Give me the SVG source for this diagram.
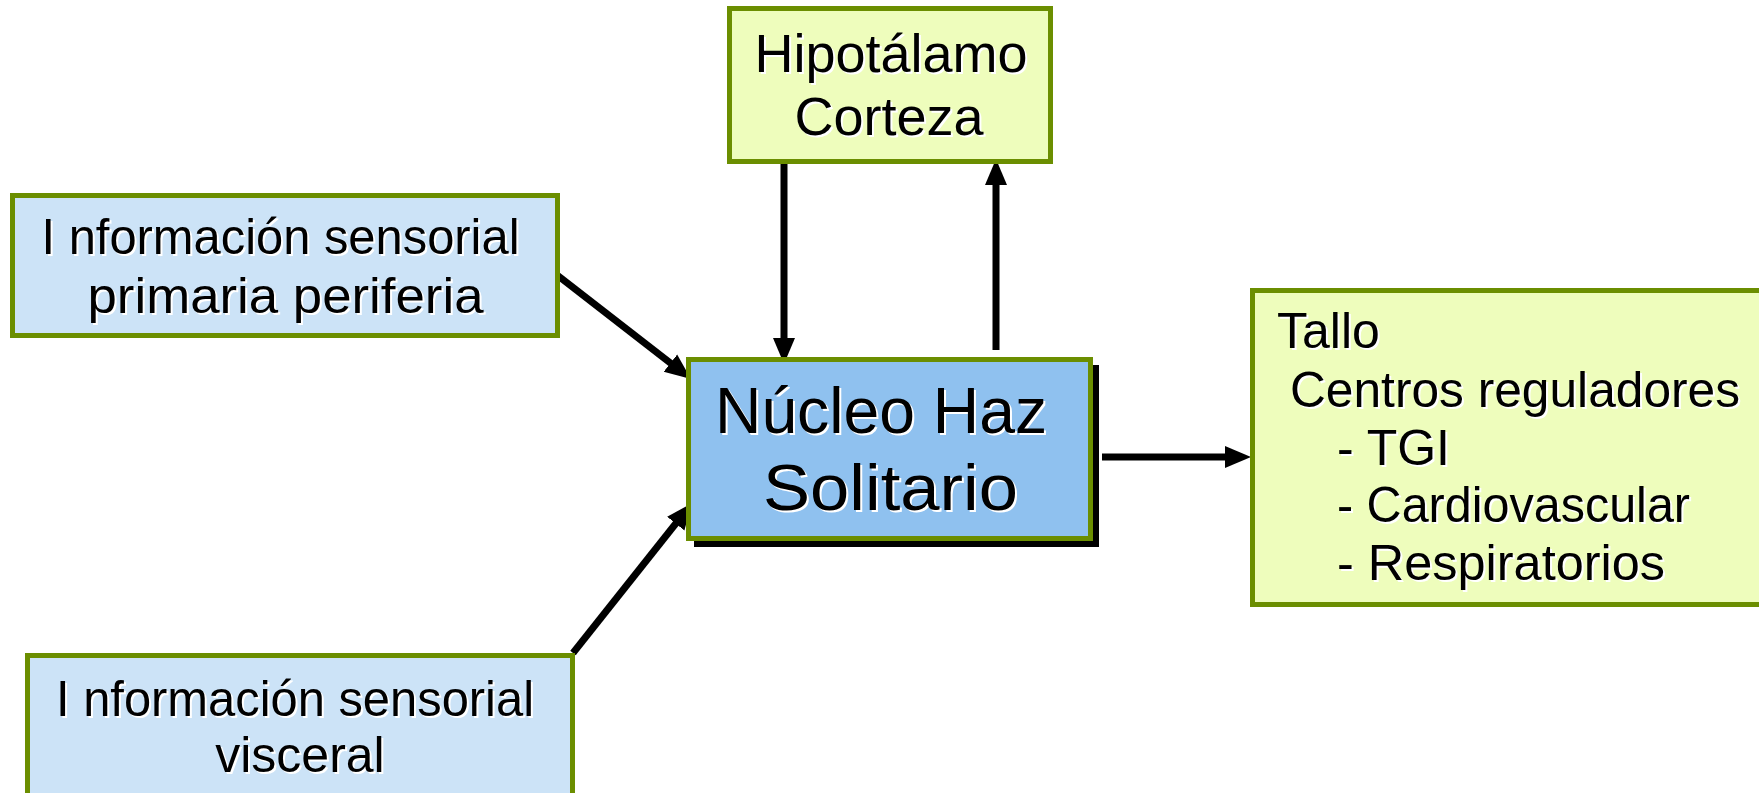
<svg xmlns="http://www.w3.org/2000/svg" width="1759" height="793" viewBox="0 0 1759 793">
  <defs>
    <marker id="arrow" markerUnits="userSpaceOnUse" markerWidth="30" markerHeight="26" viewBox="0 -13 30 26" refX="2" refY="0" orient="auto">
      <path d="M0,-11 L26,0 L0,11 z" fill="#000"/>
    </marker>
    <style>
      .box { stroke: #6B8E00; stroke-width: 5; }
      .blue { fill: #CCE3F7; }
      .core { fill: #8FC1EF; }
      .yellow { fill: #EEFDBC; }
      .lbl { font-family: "Liberation Sans", Arial, sans-serif; fill: #000; }
      .sh { font-family: "Liberation Sans", Arial, sans-serif; fill: #fff; }
      .conn { stroke: #000; stroke-width: 7; fill: none; marker-end: url(#arrow); }
    </style>
  </defs>
  <rect width="1759" height="793" fill="#fff"/>

  <!-- connectors -->
  <g id="connectors">
    <line class="conn" x1="557" y1="275" x2="672" y2="364.3"/>
    <line class="conn" x1="573" y1="653" x2="677" y2="522"/>
    <line class="conn" x1="784" y1="164" x2="784" y2="340"/>
    <line class="conn" x1="996" y1="350" x2="996" y2="183"/>
    <line class="conn" x1="1102" y1="457" x2="1227" y2="457"/>
  </g>

  <!-- peripheral primary sensory input -->
  <g id="n-periferia">
    <rect class="box blue" x="12.5" y="195.5" width="545" height="140"/>
    <g font-size="50">
      <text class="sh" x="43.5" y="256" textLength="478" lengthAdjust="spacingAndGlyphs">I nformación sensorial</text>
      <text class="lbl" x="41.5" y="254" textLength="478" lengthAdjust="spacingAndGlyphs">I nformación sensorial</text>
      <text class="sh" x="89.5" y="315" textLength="396" lengthAdjust="spacingAndGlyphs">primaria periferia</text>
      <text class="lbl" x="87.5" y="313" textLength="396" lengthAdjust="spacingAndGlyphs">primaria periferia</text>
    </g>
  </g>

  <!-- hypothalamus / cortex -->
  <g id="n-hipotalamo">
    <rect class="box yellow" x="729.5" y="8.5" width="321" height="153"/>
    <g font-size="54" text-anchor="middle">
      <text class="sh" x="893" y="74">Hipotálamo</text>
      <text class="lbl" x="891" y="72">Hipotálamo</text>
      <text class="sh" x="891" y="137">Corteza</text>
      <text class="lbl" x="889" y="135">Corteza</text>
    </g>
  </g>

  <!-- nucleus of the solitary tract -->
  <g id="n-nucleo">
    <rect x="694" y="365" width="405" height="182" fill="#000"/>
    <rect class="box core" x="688.5" y="359.5" width="402" height="179"/>
    <g font-size="64">
      <text class="sh" x="717" y="435" textLength="332" lengthAdjust="spacingAndGlyphs">Núcleo Haz</text>
      <text class="lbl" x="715" y="433" textLength="332" lengthAdjust="spacingAndGlyphs">Núcleo Haz</text>
      <text class="sh" x="765" y="512" textLength="255" lengthAdjust="spacingAndGlyphs">Solitario</text>
      <text class="lbl" x="763" y="510" textLength="255" lengthAdjust="spacingAndGlyphs">Solitario</text>
    </g>
  </g>

  <!-- brainstem regulatory centres -->
  <g id="n-tallo">
    <rect class="box yellow" x="1252.5" y="290.5" width="540" height="314"/>
    <g font-size="50">
      <text class="sh" x="1279" y="350">Tallo</text>
      <text class="lbl" x="1277" y="348">Tallo</text>
      <text class="sh" x="1292" y="409" textLength="450" lengthAdjust="spacingAndGlyphs">Centros reguladores</text>
      <text class="lbl" x="1290" y="407" textLength="450" lengthAdjust="spacingAndGlyphs">Centros reguladores</text>
      <text class="sh" x="1339" y="467">- TGI</text>
      <text class="lbl" x="1337" y="465">- TGI</text>
      <text class="sh" x="1339" y="524" textLength="353" lengthAdjust="spacingAndGlyphs">- Cardiovascular</text>
      <text class="lbl" x="1337" y="522" textLength="353" lengthAdjust="spacingAndGlyphs">- Cardiovascular</text>
      <text class="sh" x="1339" y="582" textLength="328" lengthAdjust="spacingAndGlyphs">- Respiratorios</text>
      <text class="lbl" x="1337" y="580" textLength="328" lengthAdjust="spacingAndGlyphs">- Respiratorios</text>
    </g>
  </g>

  <!-- visceral sensory input -->
  <g id="n-visceral">
    <rect class="box blue" x="27.5" y="655.5" width="545" height="160"/>
    <g font-size="50">
      <text class="sh" x="58" y="718" textLength="478" lengthAdjust="spacingAndGlyphs">I nformación sensorial</text>
      <text class="lbl" x="56" y="716" textLength="478" lengthAdjust="spacingAndGlyphs">I nformación sensorial</text>
      <text class="sh" x="302" y="774" text-anchor="middle">visceral</text>
      <text class="lbl" x="300" y="772" text-anchor="middle">visceral</text>
    </g>
  </g>
</svg>
